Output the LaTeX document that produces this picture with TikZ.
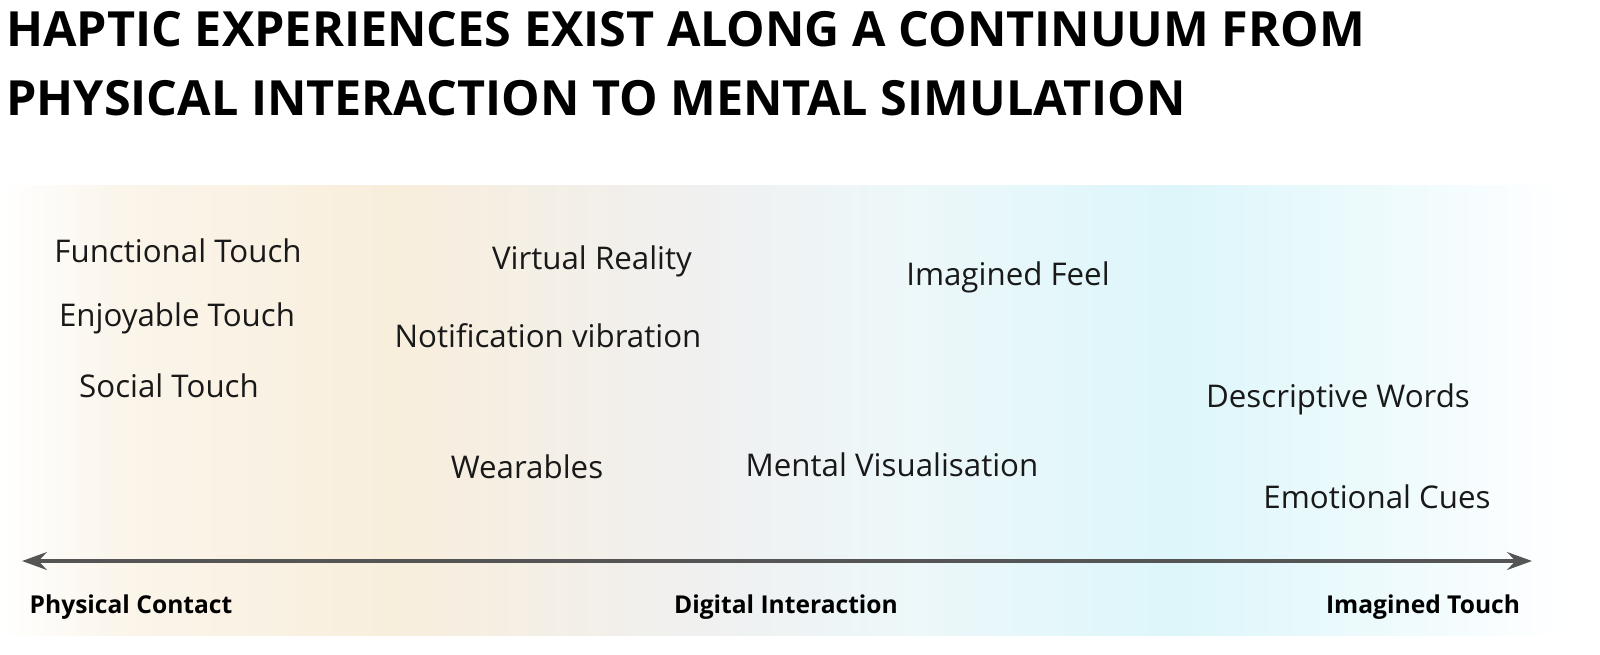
\documentclass[tikz,border=0pt]{standalone}
\usepackage{fontspec}
\setmainfont{Open Sans}
\usepackage{tikz}
\usetikzlibrary{positioning,arrows.meta}
\definecolor{axisgray}{HTML}{555555}
\definecolor{cream}{HTML}{F8EEDC}
\definecolor{mist}{HTML}{F0F0F0}
\definecolor{icy}{HTML}{DDF6FA}
\pgfdeclarehorizontalshading{continuum}{100bp}{
  color(0bp)=(white);
  color(25bp)=(white);
  color(29bp)=(cream!60!white);
  color(37.5bp)=(cream);
  color(47.5bp)=(mist);
  color(54bp)=(black!3!icy!45!white);
  color(62.5bp)=(icy);
  color(70bp)=(icy!45!white);
  color(75bp)=(white);
  color(100bp)=(white)}
\begin{document}
\begin{tikzpicture}[x=0.02cm,y=-0.02cm,
  item/.style={font=\fontsize{17.8}{21}\selectfont, text=black!90, inner sep=0pt},
  pole/.style={font=\fontsize{14}{16}\selectfont\bfseries, inner sep=0pt},
  axis/.style={{Stealth[length=14pt,width=10pt]}-{Stealth[length=14pt,width=10pt]}, line width=2.8pt, axisgray}
]
  \useasboundingbox (0,0) rectangle (1600,654);
  % background band
  \shade[shading=continuum] (0,185) rectangle (1565,635);

  % title
  \node[anchor=north west, align=left, inner sep=0pt,
        font=\fontsize{27.6}{39}\selectfont\bfseries] (title) at (6,11)
    {HAPTIC EXPERIENCES EXIST ALONG A CONTINUUM FROM\\PHYSICAL INTERACTION TO MENTAL SIMULATION};

  % physical
  \node[item] (functional) at (178,251) {Functional Touch};
  \node[item] (enjoyable)  at (177,318) {Enjoyable Touch};
  \node[item] (social)     at (169,386) {Social Touch};

  % digital
  \node[item] (vr)        at (592,261) {Virtual Reality};
  \node[item] (notify)    at (548,336) {Notification vibration};
  \node[item] (wearables) at (527,467) {Wearables};
  \node[item] (mental)    at (892,465) {Mental Visualisation};
  \node[item] (feel)      at (1008,277) {Imagined Feel};

  % imagined
  \node[item] (words)   at (1338,399) {Descriptive Words};
  \node[item] (cues)    at (1377,497) {Emotional Cues};

  % axis
  \coordinate (left)  at (22,561);
  \coordinate (right) at (1532,561);
  \draw[axis] (left) -- (right);

  \node[pole] (contact)  at (131,607) {Physical Contact};
  \node[pole] (digital)  at (786,607) {Digital Interaction};
  \node[pole] (imagined) at (1423,607) {Imagined Touch};
\end{tikzpicture}
\end{document}
